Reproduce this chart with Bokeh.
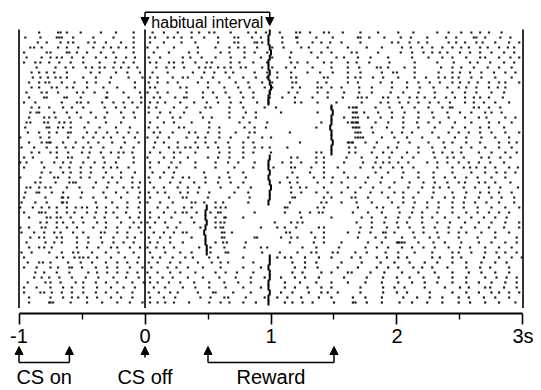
from bokeh.plotting import figure
from bokeh.models import Range1d, FixedTicker, Arrow, NormalHead, Label
from bokeh.embed import file_html
from bokeh.resources import INLINE

# spike times per trial, in centiseconds relative to CS off (row 0 = top trial)
SPIKES_CS = [
    [-84,-69,-67,-62,-51,-35,-23,-9,6,15,26,37,43,51,55,68,82,88,96,107,120,123,131,142,146,157,171,185,201,213,232,241,251,259,266,273,283],
    [-95,-83,-70,-68,-66,-57,-41,-25,-9,4,8,18,23,29,37,47,58,71,74,85,92,109,120,121,136,149,169,171,178,190,203,211,224,239,247,261,263,270,282,290],
    [-85,-78,-67,-61,-57,-45,-40,-31,-19,-9,4,15,29,40,58,71,74,87,89,93,109,121,133,140,147,156,171,196,201,210,217,224,241,247,254,263,268,278,289,297],
    [-91,-88,-82,-69,-62,-53,-41,-33,-27,-21,-15,-9,2,10,23,42,56,67,74,79,89,101,110,124,130,145,161,176,188,204,211,220,228,236,244,251,257,266,272,281,288,293],
    [-96,-78,-75,-62,-60,-54,-46,-35,-25,-9,7,19,35,42,60,67,79,87,97,116,132,140,148,164,168,185,203,212,221,228,234,240,250,258,266,275,285,293],
    [-94,-82,-75,-70,-66,-58,-49,-39,-31,-23,-15,-8,3,12,30,36,45,56,68,79,92,101,115,137,152,158,169,179,193,212,225,236,244,255,266,270,281,290,297],
    [-96,-87,-83,-76,-68,-59,-49,-36,-24,-17,-9,4,9,19,23,30,40,49,53,68,75,86,97,116,121,129,142,148,161,168,178,194,214,232,245,258,264,274,285,293],
    [-86,-71,-63,-57,-47,-42,-36,-32,-25,-19,-13,-6,9,17,23,31,43,48,52,58,63,68,76,80,93,101,112,119,133,148,161,170,184,187,193,206,214,235,244,251,261,272,281,291],
    [-90,-84,-78,-72,-62,-43,-36,-23,-14,-4,6,18,38,47,55,64,70,87,97,105,116,129,139,149,161,171,188,197,200,214,233,244,250,258,267,277,286,294],
    [-89,-83,-77,-71,-67,-62,-49,-39,-27,-13,-2,4,10,22,30,34,45,54,67,78,88,97,105,116,120,142,145,161,167,171,181,189,201,214,223,233,238,244,249,259,267,278,291],
    [-92,-84,-79,-76,-66,-56,-46,-39,-28,-8,3,10,18,26,42,50,59,72,82,93,101,117,120,137,144,161,169,187,196,208,217,226,234,244,250,257,264,273,281,286,297],
    [-90,-84,-74,-70,-62,-57,-46,-33,-22,-8,4,8,28,33,50,63,74,83,95,101,117,123,137,140,148,156,170,180,196,208,218,229,240,249,255,263,273,280,286],
    [-94,-82,-78,-69,-54,-49,-40,-30,-17,-4,2,10,18,33,46,54,64,76,86,99,114,121,137,145,158,170,180,195,205,217,230,244,254,263,275,285],
    [-92,-80,-78,-64,-62,-51,-31,-30,-13,-3,7,12,24,31,33,46,57,67,78,86,99,109,119,133,145,157,169,172,176,189,193,201,210,216,222,230,239,246,254,261,266,273,284],
    [-96,-87,-66,-54,-51,-45,-34,-25,-17,-10,-3,4,10,16,28,39,49,58,68,76,89,98,119,124,137,152,172,187,193,202,209,217,226,233,242,254,261,269,278,289],
    [-90,-84,-76,-65,-58,-49,-32,-23,-16,-6,3,9,23,33,48,52,67,78,95,104,148,162,165,167,168,183,194,204,214,225,236,242,244,261,265,273,282],
    [-91,-86,-84,-72,-62,-54,-43,-30,-19,-9,3,12,20,31,44,67,80,88,108,137,165,167,168,174,185,196,206,217,228,240,250,259,270,275,283],
    [-92,-80,-76,-71,-60,-51,-39,-32,-17,-8,10,22,28,46,53,67,78,88,158,165,167,169,177,187,196,205,217,229,241,254,265,271,286,294],
    [-94,-91,-80,-77,-68,-64,-59,-45,-31,-19,4,15,23,37,51,75,83,97,140,161,164,165,167,168,169,183,193,205,216,225,234,246,259,273,281,291],
    [-95,-78,-76,-69,-65,-59,-48,-36,-23,-12,3,10,27,31,51,59,79,87,96,136,165,167,168,170,180,192,205,217,230,244,254,266,273,285],
    [-93,-84,-76,-70,-61,-59,-46,-39,-30,-22,-13,-6,7,12,22,35,40,50,59,72,83,87,115,167,169,171,181,196,204,212,228,241,249,257,266,275,286,297],
    [-99,-83,-76,-61,-49,-41,-33,-27,-17,-8,2,10,19,33,42,48,59,68,82,93,100,167,169,171,173,188,198,208,220,233,246,255,267,278,289],
    [-92,-82,-78,-76,-75,-65,-55,-45,-37,-26,-16,-5,8,15,26,40,48,56,66,78,86,123,161,162,164,165,175,184,201,210,225,237,244,255,266,281,289,295],
    [-98,-88,-78,-70,-63,-57,-49,-43,-33,-19,-9,7,19,26,32,36,42,50,58,67,78,87,93,99,113,162,167,182,193,200,217,228,238,251,259,270,281,291],
    [-90,-84,-75,-70,-61,-50,-44,-35,-27,-21,-17,-10,4,12,23,28,40,59,67,78,86,100,136,140,162,167,180,189,196,208,217,229,236,244,251,265,275,286,295],
    [-96,-89,-70,-61,-58,-45,-33,-21,-9,2,15,23,34,50,58,67,78,116,121,136,142,160,172,184,194,204,213,230,240,245,253,267,273,282,290],
    [-99,-94,-82,-72,-65,-59,-49,-40,-32,-23,-9,4,11,21,28,40,56,66,74,87,109,116,124,136,142,158,173,183,189,194,201,209,224,232,240,249,257,265,274,285],
    [-96,-80,-67,-60,-51,-43,-33,-27,-22,-13,4,19,25,40,56,71,86,102,116,119,132,142,153,171,181,187,197,204,213,232,244,253,258,263,270,278,289,296],
    [-82,-75,-65,-59,-51,-43,-31,-19,-8,6,15,23,47,66,78,117,131,142,158,183,193,205,217,229,244,259,270,279,286,294],
    [-99,-83,-72,-69,-60,-51,-44,-33,-26,-19,-10,3,12,22,30,35,48,59,67,80,113,121,134,142,149,161,167,177,188,204,217,229,238,246,255,264,275,286],
    [-87,-83,-71,-60,-57,-55,-39,-29,-22,-10,-4,4,20,28,39,48,58,68,78,107,115,121,137,148,156,175,187,198,210,221,230,240,249,254,265,270,278,290],
    [-94,-91,-84,-79,-75,-62,-52,-41,-30,-17,-10,-5,7,15,26,34,43,60,74,84,116,123,128,142,161,171,181,194,209,220,229,234,241,253,262,273,282,296],
    [-95,-86,-84,-74,-65,-50,-33,-23,-14,-4,3,10,16,28,34,42,51,71,82,116,124,136,145,156,167,179,188,198,205,217,229,244,255,266,273,281,291],
    [-96,-79,-66,-65,-61,-51,-41,-31,-19,-5,4,19,30,33,50,67,83,117,119,142,148,164,167,177,193,205,213,228,238,245,254,265,275,283,293],
    [-98,-87,-78,-66,-65,-62,-39,-26,-14,-4,2,12,22,37,40,47,56,62,82,115,140,144,156,168,180,196,205,214,224,233,244,253,262,271,281,293],
    [-99,-89,-82,-76,-70,-62,-55,-50,-46,-38,-31,-22,-14,-5,10,18,31,37,56,60,64,111,113,137,142,169,184,189,201,213,224,233,244,253,264,275,286,297],
    [-96,-84,-82,-79,-70,-62,-56,-46,-39,-31,-25,-15,-4,4,15,24,30,33,41,52,58,60,87,111,123,131,138,141,165,177,188,202,212,220,232,244,255,264,273,281,289],
    [-92,-78,-75,-70,-67,-59,-50,-40,-32,-22,-12,-5,4,11,21,37,56,63,64,78,124,148,172,180,191,201,210,220,228,238,249,259,269,278,287],
    [-83,-78,-70,-65,-57,-49,-38,-31,-19,-9,-3,2,8,16,28,39,56,60,63,103,116,121,125,168,180,190,200,208,220,232,242,254,265,275,286,297],
    [-99,-92,-82,-79,-70,-62,-54,-41,-31,-22,-12,-5,4,18,25,44,56,60,62,92,105,111,120,138,142,171,180,192,201,210,221,230,241,251,262,273,285,297],
    [-98,-88,-80,-72,-67,-57,-49,-35,-32,-22,-14,-3,7,15,23,30,33,61,63,69,112,115,132,142,161,170,179,189,191,198,213,221,232,241,249,255,267,278,289],
    [-91,-84,-80,-70,-66,-54,-45,-35,-25,-14,-8,3,12,20,37,61,63,87,89,108,116,121,135,142,169,183,191,204,214,226,233,249,264,278,295],
    [-94,-79,-72,-66,-54,-45,-34,-25,-17,-9,4,10,20,30,56,62,65,80,115,134,142,156,177,188,200,201,202,204,206,217,229,238,251,265,275,286,295],
    [-92,-84,-80,-74,-54,-46,-37,-27,-22,-12,-4,2,9,15,23,43,52,63,79,92,97,125,136,154,175,184,193,204,212,221,230,241,250,258,270,281,291],
    [-98,-90,-76,-66,-57,-53,-42,-31,-21,-9,4,16,28,37,52,64,66,93,107,121,132,136,149,153,167,176,191,201,214,228,244,249,259,270,279,286,295],
    [-96,-70,-65,-56,-52,-49,-45,-38,-27,-16,-5,6,12,22,32,38,51,58,78,105,111,116,127,138,148,164,171,184,192,201,208,228,234,244,251,269,281,291,299],
    [-93,-84,-81,-75,-61,-51,-42,-31,-22,-14,-6,3,10,20,28,42,53,60,66,86,117,127,136,156,172,187,198,210,222,232,244,255,267,278,287],
    [-96,-86,-75,-69,-60,-58,-50,-39,-30,-22,-12,-2,5,18,25,34,46,60,78,92,119,127,137,153,169,184,193,201,213,220,228,240,255,266,274,289],
    [-87,-80,-70,-60,-45,-38,-30,-22,-14,-6,2,10,20,28,40,56,64,73,86,117,125,140,148,161,164,179,190,204,217,230,244,257,267,278,289],
    [-88,-82,-76,-68,-58,-47,-37,-25,-15,-5,4,14,22,34,46,59,72,84,95,108,119,127,138,158,176,189,200,210,221,233,244,255,270,279,287,295],
    [-93,-79,-75,-67,-55,-49,-39,-31,-22,-10,-1,4,10,19,28,39,51,63,74,84,111,123,136,148,161,175,188,201,212,222,232,244,255,265,275,286,295],
    [-96,-86,-75,-65,-58,-49,-38,-27,-17,-8,7,16,30,40,51,64,78,92,111,119,129,140,148,171,189,198,206,222,238,250,257,270,274,285,295],
    [-96,-83,-80,-74,-66,-58,-49,-39,-31,-22,-10,3,11,20,26,42,54,56,70,84,108,117,130,140,145,153,171,189,200,208,226,244,255,265,275,281,289,297],
    [-92,-75,-65,-58,-53,-46,-38,-27,-19,-10,4,15,24,44,52,63,66,80,95,105,113,124,138,148,165,175,188,205,216,226,236,249,257,269,278,289],
    [-92,-76,-75,-73,-59,-46,-34,-22,-12,-2,4,10,16,23,35,51,60,67,78,88,111,117,125,133,150,165,167,176,188,202,212,224,236,249,258,270,281,294],
]

# reward delivery time per trial (s)
REWARD_S = [0.99, 0.98, 0.98, 0.99, 1.00, 0.99, 0.98, 0.98, 0.99, 0.98, 0.99, 1.00, 0.99, 0.98, 0.98,
            1.48, 1.49, 1.48, 1.48, 1.47, 1.48, 1.48, 1.49, 1.48, 1.48,
            0.99, 0.98, 0.98, 0.99, 0.98, 0.99, 1.00, 0.99, 0.99, 0.98,
            0.49, 0.48, 0.48, 0.49, 0.48, 0.47, 0.48, 0.48, 0.49, 0.49,
            0.99, 0.99, 0.98, 0.99, 0.99, 0.98, 0.98, 0.99, 0.98, 0.98]

TRIAL_LINES_S = [-1.0, 0.0, 3.0]          # trace start, CS off, trace end
HABITUAL_S = [0.0, 0.99]
CS_ON_S = [-1.0, -0.6]
CS_OFF_S = 0.0
REWARD_RANGE_S = [0.5, 1.5]
TICKS = [-1, 0, 1, 2, 3]
TICK_LABELS = ["-1", "0", "1", "2", "3s"]
MINOR_TICKS = [-0.5, 0.5, 1.5, 2.5]

FONT = "Liberation Sans"
n = len(SPIKES_CS)

xs, ys = [], []
for i, row in enumerate(SPIKES_CS):
    for c in row:
        xs.append(c / 100.0)
        ys.append(i)

# row i sits at 32 + 5*i px from the top; frame covers the whole canvas
p = figure(width=541, height=390,
           x_range=Range1d(-1.1151, 3.1151), y_range=Range1d(71.6, -6.4),
           output_backend="svg", toolbar_location=None, y_axis_location=None,
           min_border_left=4, min_border_right=4, min_border_top=0, min_border_bottom=0)
p.grid.visible = False
p.outline_line_color = None
p.background_fill_color = "white"
p.border_fill_color = "white"

ax = p.xaxis[0]
ax.fixed_location = 56.2
ax.ticker = FixedTicker(ticks=TICKS, minor_ticks=MINOR_TICKS)
ax.major_label_overrides = {t: l for t, l in zip(TICKS, TICK_LABELS)}
ax.bounds = (TICKS[0], TICKS[-1])
ax.axis_line_color = "black"
ax.axis_line_width = 1.8
ax.major_tick_line_color = "black"
ax.major_tick_line_width = 1.6
ax.minor_tick_line_color = "black"
ax.minor_tick_line_width = 1.4
ax.major_tick_in = 0
ax.major_tick_out = 11
ax.minor_tick_in = 0
ax.minor_tick_out = 6
ax.major_label_standoff = 0
ax.major_label_text_font = FONT
ax.major_label_text_font_size = "20px"
ax.major_label_text_color = "black"

# spikes
p.scatter(xs, ys, marker="square", size=2.2, fill_color="#1a1a1a", line_color=None)

# reward markers per trial
p.segment(x0=REWARD_S, y0=[i - 0.6 for i in range(n)], x1=REWARD_S, y1=[i + 0.6 for i in range(n)],
          line_color="black", line_width=2)

# trial-aligned vertical lines
p.segment(x0=TRIAL_LINES_S, y0=[-0.6] * 3, x1=TRIAL_LINES_S, y1=[n + 0.1] * 3,
          line_color="black", line_width=1.6)

def head():
    return NormalHead(size=8, fill_color="black", line_color="black", line_width=1)

# habitual interval bracket
Y_HBR, Y_HTIP, Y_HTXT = -4.06, -1.4, -2.0
p.add_layout(Arrow(x_start=HABITUAL_S[0], y_start=Y_HBR, x_end=HABITUAL_S[1], y_end=Y_HBR,
                   start=None, end=None, line_width=1.5, line_color="black"))
for hx in HABITUAL_S:
    p.add_layout(Arrow(x_start=hx, y_start=Y_HBR, x_end=hx, y_end=Y_HTIP, end=head(),
                       line_width=1.5, line_color="black"))
p.add_layout(Label(x=sum(HABITUAL_S) / 2, y=Y_HTXT, text="habitual interval", text_align="center",
                   text_baseline="alphabetic", text_font=FONT, text_font_size="16px", text_color="black"))

# bottom event annotations
Y_TIP, Y_BR, Y_OFF, Y_TXT = 62.8, 66.0, 65.0, 68.9
for rng in (CS_ON_S, REWARD_RANGE_S):
    p.add_layout(Arrow(x_start=rng[0], y_start=Y_BR, x_end=rng[1], y_end=Y_BR, start=None, end=None,
                       line_width=1.5, line_color="black"))
    for ex in rng:
        p.add_layout(Arrow(x_start=ex, y_start=Y_BR, x_end=ex, y_end=Y_TIP, end=head(),
                           line_width=1.5, line_color="black"))
p.add_layout(Arrow(x_start=CS_OFF_S, y_start=Y_OFF, x_end=CS_OFF_S, y_end=Y_TIP, end=head(),
                   line_width=1.5, line_color="black"))
for txt, xc in (("CS on", sum(CS_ON_S) / 2), ("CS off", CS_OFF_S), ("Reward", sum(REWARD_RANGE_S) / 2)):
    p.add_layout(Label(x=xc, y=Y_TXT, text=txt, text_align="center", text_baseline="alphabetic",
                       text_font=FONT, text_font_size="20px", text_color="black"))

open("out.html", "w").write(file_html(p, INLINE))
